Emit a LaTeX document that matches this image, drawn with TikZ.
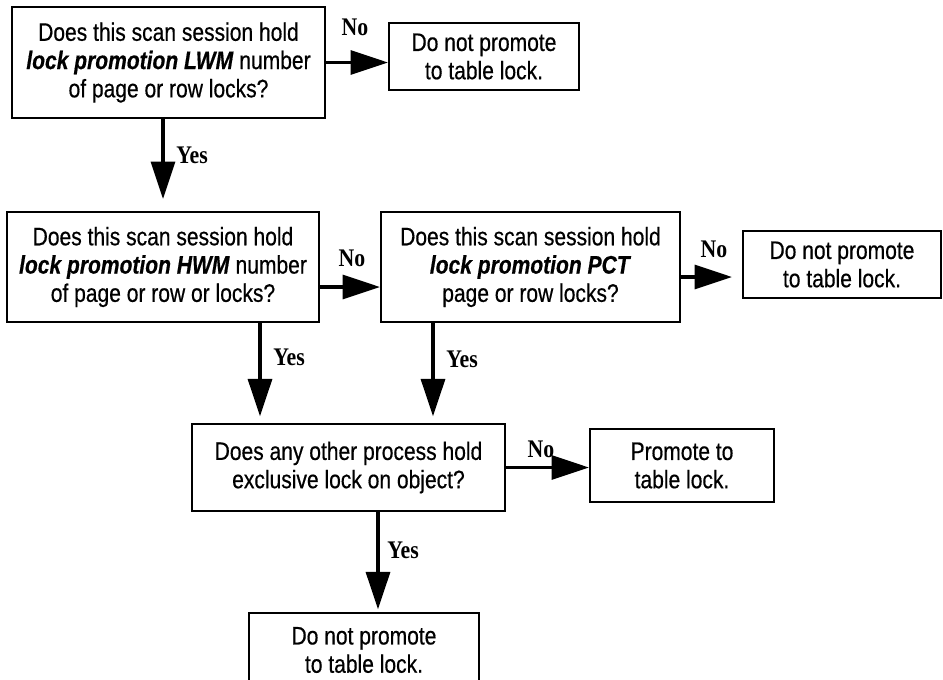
\documentclass[tikz,border=0pt]{standalone}
\usepackage{fontspec}
\setmainfont{Liberation Sans}[FakeStretch=0.83, FakeBold=0.5]
\newfontfamily\lblfont{Liberation Serif}[FakeStretch=0.86]
\usetikzlibrary{arrows.meta}

\tikzset{
  box/.style={draw, line width=1.6pt, align=center, inner sep=0pt,
    font=\fontsize{19}{21.2}\selectfont},
  flow/.style={line width=2.4pt, -{Triangle[length=28pt,width=18pt]}},
  answer/.style={font=\lblfont\bfseries\fontsize{19}{21}\selectfont, inner sep=0pt}
}
\newcommand{\lockkey}[1]{\textbf{\textit{#1}}}

\begin{document}
\begin{tikzpicture}[x=0.75pt, y=-0.75pt]
\useasboundingbox (0,0) rectangle (943,679);

% questions
\node[box, minimum width=234.75pt, minimum height=83.25pt] (lwm) at (168.5,62.5)
  {Does this scan session hold\\ \lockkey{lock promotion LWM} number\\ of page or row locks?};
\node[box, minimum width=234pt, minimum height=82.5pt] (hwm) at (163,267)
  {Does this scan session hold\\ \lockkey{lock promotion HWM} number\\ of page or row or locks?};
\node[box, minimum width=224.25pt, minimum height=82.5pt] (pct) at (530.5,267)
  {Does this scan session hold\\ \lockkey{lock promotion PCT}\\ page or row locks?};
\node[box, minimum width=234.75pt, minimum height=65.25pt] (excl) at (348.5,467.5)
  {Does any other process hold\\ exclusive lock on object?};

% outcomes
\node[box, minimum width=142.5pt, minimum height=50.25pt] (keep1) at (484,56.5)
  {Do not promote\\ to table lock.};
\node[box, minimum width=148.5pt, minimum height=50.25pt] (keep2) at (842,264.5)
  {Do not promote\\ to table lock.};
\node[box, minimum width=138pt, minimum height=54.75pt] (promote) at (682,465.5)
  {Promote to\\ table lock.};
\node[box, minimum width=172.5pt, minimum height=55.5pt] (keep3) at (364,650)
  {Do not promote\\ to table lock.};

% arrows
\draw[flow] (lwm.east) -- (lwm.east -| keep1.west);
\draw[flow, shorten >=9pt] (lwm.south -| hwm.north) -- (hwm.north);
\draw[flow] (hwm.east |- 0,287) -- (pct.west |- 0,287);
\draw[flow, shorten >=7.5pt] (pct.east |- 0,277) -- (keep2.west |- 0,277);
\draw[flow, shorten >=5pt] (hwm.south -| 260,0) -- (excl.north -| 260,0);
\draw[flow, shorten >=5pt] (pct.south -| 433,0) -- (excl.north -| 433,0);
\draw[flow] (excl.east) -- (excl.east -| promote.west);
\draw[flow, shorten >=2pt] (excl.south -| 378,0) -- (keep3.north -| 378,0);

% answers
\node[answer] (no1) at (355,27) {No};
\node[answer] (yes1) at (192,155) {Yes};
\node[answer] (no2) at (352,258) {No};
\node[answer] (no3) at (714,249) {No};
\node[answer] (yes2) at (289,357) {Yes};
\node[answer] (yes3) at (462,359) {Yes};
\node[answer] (no4) at (541,449) {No};
\node[answer] (yes4) at (403,550) {Yes};
\end{tikzpicture}
\end{document}
